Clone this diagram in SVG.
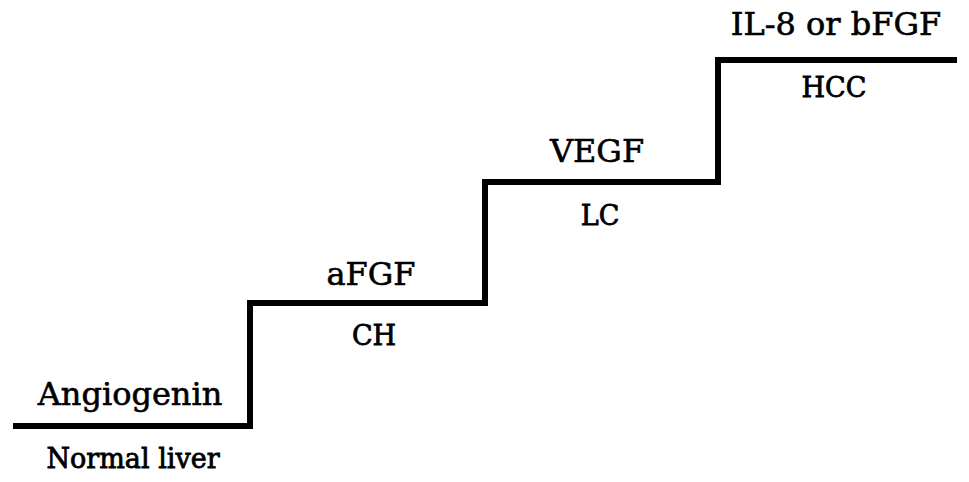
<svg xmlns="http://www.w3.org/2000/svg" width="969" height="482" viewBox="0 0 969 482">
<style>
.stair{fill:none;stroke:#000;stroke-width:6;stroke-linejoin:miter;stroke-linecap:butt}
.big{font-family:"DejaVu Serif","Liberation Serif",serif;font-size:32px;fill:#000;stroke:#000;stroke-width:0.6;text-anchor:middle}
.small{font-family:"DejaVu Serif","Liberation Serif",serif;font-size:27px;fill:#000;stroke:#000;stroke-width:0.8;text-anchor:middle}
</style>
<rect width="969" height="482" fill="#fff"/>
<g id="connectors">
<path class="stair" d="M13 426 H250 V303 H485 V182 H718 V60 H957"/>
</g>
<g id="normal-liver">
<text class="big" x="130" y="405">Angiogenin</text>
<text class="small" x="133" y="468">Normal liver</text>
</g>
<g id="ch">
<text class="big" x="371" y="285">aFGF</text>
<text class="small" x="374" y="345">CH</text>
</g>
<g id="lc">
<text class="big" x="597" y="162">VEGF</text>
<text class="small" x="600" y="225">LC</text>
</g>
<g id="hcc">
<text class="big" x="836" y="35">IL-8 or bFGF</text>
<text class="small" x="834" y="97">HCC</text>
</g>
</svg>
